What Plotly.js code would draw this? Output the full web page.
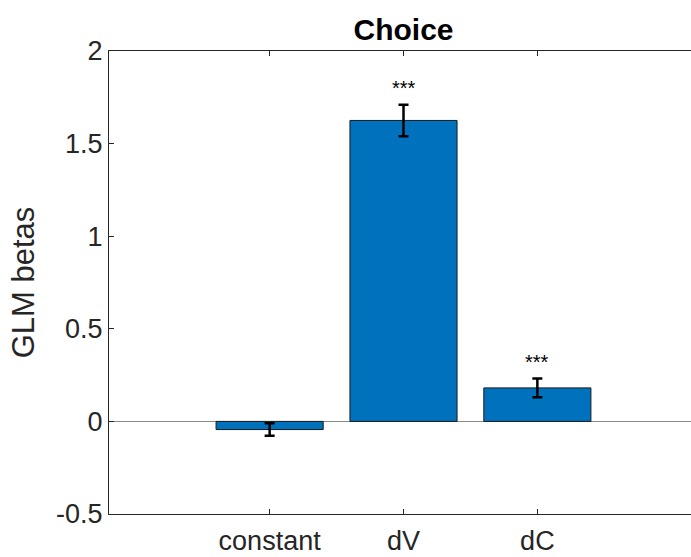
<!DOCTYPE html>
<html>
<head>
<meta charset="utf-8">
<script src="https://cdn.plot.ly/plotly-3.0.1.min.js"></script>
<style>html,body{margin:0;padding:0;overflow:hidden;background:#fff;}</style>
</head>
<body>
<div id="chart"></div>
<script>
const categories = ["constant", "dV", "dC"];
const betas = [-0.044, 1.625, 0.181];
const errors = [0.034, 0.085, 0.05];
const stars = ["", "***", "***"];
const yTicks = [-0.5, 0, 0.5, 1, 1.5, 2];
const yTickText = ["-0.5", "0", "0.5", "1", "1.5", "2"];

const FONT = "Liberation Sans, Arial, Helvetica, sans-serif";

const trace = {
  type: "bar",
  x: categories,
  y: betas,
  width: 0.8,
  marker: {color: "#0072BD", line: {color: "#1a1a1a", width: 1}},
  error_y: {type: "data", array: errors, visible: true, color: "#000000", thickness: 2.5, width: 5},
  hoverinfo: "none"
};

const annotations = categories.map((c, i) => ({
  x: c, y: betas[i] + errors[i], yref: "y", xref: "x",
  text: stars[i], showarrow: false, yanchor: "bottom", yshift: 4,
  font: {family: FONT, size: 20, color: "#000"}
})).filter(a => a.text !== "");

const layout = {
  width: 700, height: 557,
  margin: {l: 109, r: 2, t: 51, b: 43},
  paper_bgcolor: "#fff", plot_bgcolor: "#fff",
  showlegend: false,
  title: {text: "<b>Choice</b>", font: {family: FONT, size: 30, color: "#000"}, x: 0.5, xref: "paper", y: 0.947, yanchor: "middle"},
  xaxis: {
    type: "category", range: [-1.2, 3.2],
    showline: true, linecolor: "#262626", linewidth: 1, mirror: "ticks",
    ticks: "inside", ticklen: 5, tickcolor: "#262626",
    ticklabelstandoff: 3,
    tickfont: {family: FONT, size: 27, color: "#262626"},
    showgrid: false, zeroline: false, fixedrange: true
  },
  yaxis: {
    range: [-0.5, 2],
    tickvals: yTicks, ticktext: yTickText,
    showline: true, linecolor: "#262626", linewidth: 1, mirror: "ticks",
    ticks: "inside", ticklen: 5, tickcolor: "#262626",
    tickfont: {family: FONT, size: 27, color: "#262626"},
    title: {text: "GLM betas", font: {family: FONT, size: 31, color: "#262626"}, standoff: 12},
    showgrid: false, zeroline: true, zerolinecolor: "#8a8a8a", zerolinewidth: 1,
    fixedrange: true
  },
  annotations: annotations,
  bargap: 0.2
};

Plotly.newPlot("chart", [trace], layout, {displayModeBar: false, staticPlot: true});
</script>
</body>
</html>
